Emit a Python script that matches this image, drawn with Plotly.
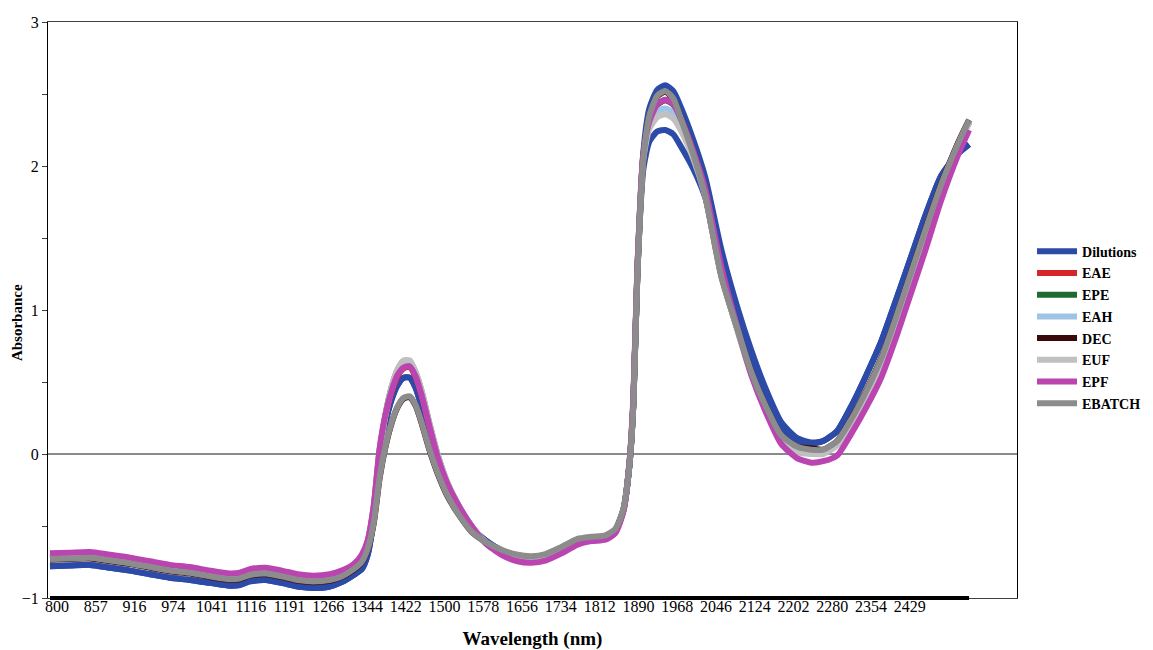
import plotly.graph_objects as go

# x positions in units of the data grid (one unit = 40 px-equivalent step along the category axis)
position = [0.0, 0.5, 1.0, 1.5, 2.0, 2.5, 3.0, 3.5, 4.0, 4.5, 4.75, 5.0, 5.4, 5.8, 6.2, 6.6, 7.0, 7.3, 7.6, 7.8,
            7.95, 8.1, 8.25, 8.4, 8.55, 8.7, 8.85, 9.0, 9.15, 9.3, 9.5, 9.7, 9.95, 10.25, 10.55, 10.9, 11.3, 11.7,
            12.05, 12.4, 12.8, 13.2, 13.55, 13.9, 14.15, 14.35, 14.5, 14.6, 14.7,
            14.85, 15.0, 15.2, 15.4, 15.6, 15.8, 16.1, 16.4, 16.8, 17.2, 17.55, 17.9, 18.3, 18.7, 19.05, 19.35,
            19.7, 20.05, 20.4, 20.8, 21.2, 21.55, 21.9, 22.3, 22.7, 23.0]

tick_labels = ["800", "857", "916", "974", "1041", "1116", "1191", "1266", "1344", "1422", "1500", "1578",
               "1656", "1734", "1812", "1890", "1968", "2046", "2124", "2202", "2280", "2354", "2429"]
tick_start = 0.175   # position of the first labelled category
tick_step = 0.97     # categories between labels, in position units

dilutions = [-0.78, -0.775, -0.77, -0.79, -0.81, -0.835, -0.86, -0.875, -0.895, -0.915, -0.91, -0.885, -0.875, -0.895, -0.92, -0.93, -0.92, -0.89, -0.84, -0.80,
             -0.70, -0.45, -0.05, 0.22, 0.38, 0.48, 0.53, 0.53, 0.46, 0.33, 0.12, -0.06, -0.24, -0.39, -0.51, -0.60, -0.67, -0.715, -0.73, -0.715, -0.66, -0.60, -0.585, -0.575, -0.53, -0.39, -0.08, 0.36, 1.28,
             2.10, 2.40, 2.53, 2.56, 2.52, 2.40, 2.18, 1.92, 1.42, 1.02, 0.72, 0.46, 0.22, 0.11, 0.08, 0.09, 0.16, 0.33, 0.53, 0.78, 1.09, 1.37, 1.65, 1.93, 2.08, 2.15]

dilutions_low = [-0.78, -0.775, -0.77, -0.79, -0.81, -0.835, -0.86, -0.875, -0.895, -0.915, -0.91, -0.885, -0.875, -0.895, -0.92, -0.93, -0.92, -0.89, -0.84, -0.80,
                 -0.70, -0.45, -0.05, 0.22, 0.38, 0.48, 0.53, 0.53, 0.46, 0.33, 0.12, -0.06, -0.24, -0.39, -0.51, -0.60, -0.67, -0.715, -0.73, -0.715, -0.66, -0.60, -0.585, -0.575, -0.53, -0.39, -0.08, 0.36, 1.26,
                 1.98, 2.17, 2.24, 2.25, 2.22, 2.13, 1.98, 1.78, 1.32, 0.95, 0.66, 0.41, 0.19, 0.09, 0.07, 0.09, 0.16, 0.33, 0.53, 0.78, 1.09, 1.37, 1.65, 1.93, 2.08, 2.15]

eae = [-0.725, -0.72, -0.715, -0.735, -0.755, -0.78, -0.805, -0.82, -0.845, -0.865, -0.86, -0.835, -0.825, -0.845, -0.87, -0.88, -0.87, -0.845, -0.795, -0.745,
       -0.61, -0.37, 0.03, 0.27, 0.43, 0.54, 0.595, 0.605, 0.535, 0.405, 0.185, -0.025, -0.215, -0.375, -0.505, -0.615, -0.675, -0.715, -0.73, -0.715, -0.66, -0.60, -0.585, -0.575, -0.53, -0.39, -0.07, 0.37, 1.27,
       2.08, 2.31, 2.43, 2.455, 2.43, 2.32, 2.10, 1.83, 1.26, 0.87, 0.56, 0.32, 0.11, 0.03, 0.02, 0.02, 0.08, 0.23, 0.41, 0.65, 0.96, 1.25, 1.54, 1.86, 2.14, 2.31]

epe = [-0.72, -0.715, -0.71, -0.73, -0.75, -0.775, -0.80, -0.815, -0.84, -0.86, -0.855, -0.83, -0.82, -0.84, -0.865, -0.875, -0.865, -0.84, -0.79, -0.74,
       -0.62, -0.40, 0.00, 0.28, 0.465, 0.585, 0.645, 0.645, 0.565, 0.435, 0.205, -0.005, -0.205, -0.37, -0.50, -0.61, -0.68, -0.72, -0.735, -0.72, -0.665, -0.61, -0.59, -0.58, -0.535, -0.39, -0.07, 0.37, 1.27,
       2.07, 2.31, 2.425, 2.46, 2.425, 2.315, 2.095, 1.83, 1.26, 0.87, 0.56, 0.32, 0.11, 0.02, 0.01, 0.01, 0.07, 0.22, 0.40, 0.64, 0.95, 1.24, 1.53, 1.86, 2.14, 2.30]

eah = [-0.72, -0.715, -0.71, -0.73, -0.75, -0.775, -0.80, -0.815, -0.84, -0.86, -0.855, -0.83, -0.82, -0.84, -0.865, -0.875, -0.865, -0.84, -0.79, -0.74,
       -0.615, -0.38, 0.02, 0.275, 0.45, 0.565, 0.625, 0.63, 0.555, 0.42, 0.20, -0.01, -0.21, -0.37, -0.50, -0.61, -0.675, -0.715, -0.73, -0.715, -0.66, -0.60, -0.585, -0.575, -0.53, -0.39, -0.08, 0.36, 1.27,
       2.06, 2.30, 2.38, 2.40, 2.37, 2.27, 2.07, 1.80, 1.26, 0.87, 0.56, 0.32, 0.11, 0.02, 0.01, 0.01, 0.07, 0.22, 0.40, 0.64, 0.95, 1.24, 1.53, 1.86, 2.14, 2.31]

dec = [-0.735, -0.73, -0.725, -0.745, -0.765, -0.79, -0.815, -0.83, -0.855, -0.875, -0.87, -0.845, -0.835, -0.855, -0.88, -0.89, -0.88, -0.855, -0.805, -0.755,
       -0.665, -0.485, -0.165, 0.055, 0.215, 0.325, 0.385, 0.395, 0.335, 0.215, 0.025, -0.135, -0.295, -0.43, -0.54, -0.61, -0.67, -0.705, -0.715, -0.70, -0.65, -0.595, -0.58, -0.57, -0.525, -0.385, -0.08, 0.35, 1.25,
       2.05, 2.345, 2.485, 2.515, 2.465, 2.32, 2.08, 1.79, 1.24, 0.87, 0.57, 0.34, 0.13, 0.05, 0.04, 0.03, 0.09, 0.245, 0.425, 0.665, 0.97, 1.265, 1.555, 1.875, 2.145, 2.32]

euf = [-0.715, -0.71, -0.705, -0.725, -0.745, -0.77, -0.795, -0.81, -0.835, -0.855, -0.85, -0.825, -0.815, -0.835, -0.86, -0.87, -0.86, -0.835, -0.785, -0.73,
       -0.62, -0.40, 0.00, 0.28, 0.47, 0.59, 0.65, 0.65, 0.57, 0.44, 0.21, 0.00, -0.20, -0.37, -0.50, -0.61, -0.68, -0.72, -0.735, -0.72, -0.665, -0.61, -0.59, -0.58, -0.535, -0.39, -0.07, 0.37, 1.27,
       2.05, 2.26, 2.34, 2.36, 2.33, 2.24, 2.05, 1.79, 1.25, 0.86, 0.55, 0.31, 0.10, 0.01, 0.00, 0.00, 0.06, 0.21, 0.39, 0.63, 0.94, 1.23, 1.52, 1.85, 2.13, 2.30]

epf = [-0.69, -0.685, -0.68, -0.70, -0.72, -0.745, -0.77, -0.785, -0.81, -0.83, -0.825, -0.80, -0.79, -0.81, -0.835, -0.845, -0.835, -0.81, -0.765, -0.70,
       -0.60, -0.36, 0.04, 0.28, 0.44, 0.55, 0.60, 0.61, 0.54, 0.41, 0.19, -0.02, -0.21, -0.37, -0.50, -0.62, -0.70, -0.745, -0.755, -0.74, -0.69, -0.63, -0.605, -0.595, -0.55, -0.40, -0.06, 0.40, 1.30,
       2.08, 2.31, 2.43, 2.46, 2.43, 2.32, 2.10, 1.84, 1.30, 0.88, 0.55, 0.30, 0.07, -0.03, -0.06, -0.05, -0.01, 0.14, 0.31, 0.53, 0.83, 1.12, 1.41, 1.76, 2.06, 2.25]

ebatch = [-0.73, -0.725, -0.72, -0.74, -0.76, -0.785, -0.81, -0.825, -0.85, -0.87, -0.865, -0.84, -0.83, -0.85, -0.875, -0.885, -0.875, -0.85, -0.80, -0.75,
          -0.66, -0.48, -0.16, 0.06, 0.22, 0.33, 0.39, 0.40, 0.34, 0.22, 0.03, -0.13, -0.29, -0.43, -0.54, -0.61, -0.665, -0.70, -0.71, -0.695, -0.645, -0.59, -0.575, -0.565, -0.52, -0.38, -0.08, 0.35, 1.25,
          2.05, 2.35, 2.49, 2.52, 2.47, 2.32, 2.08, 1.79, 1.23, 0.87, 0.57, 0.34, 0.13, 0.05, 0.03, 0.03, 0.09, 0.24, 0.42, 0.66, 0.97, 1.26, 1.55, 1.87, 2.14, 2.32]

series = [
    ("Dilutions", dilutions_low, "#2C4AA8", False),
    ("Dilutions", dilutions, "#2C4AA8", True),
    ("EAE", eae, "#D7262B", True),
    ("EPE", epe, "#1F6B2F", True),
    ("EAH", eah, "#9DC3E6", True),
    ("DEC", dec, "#3A0A0A", True),
    ("EUF", euf, "#C0C0C0", True),
    ("EPF", epf, "#BA45B0", True),
    ("EBATCH", ebatch, "#8C8C8C", True),
]

fig = go.Figure()
for name, vals, color, show in series:
    fig.add_trace(go.Scatter(
        x=position, y=vals, mode="lines", name=name, legendgroup=name, showlegend=show,
        line=dict(color=color, width=6, shape="spline", smoothing=0.6),
        hoverinfo="skip",
    ))

# heavy category-axis baseline under the data extent
fig.add_shape(type="line", xref="x", yref="paper", x0=position[0], x1=position[-1], y0=0, y1=0,
              line=dict(color="black", width=4))

serif = "Liberation Serif"

fig.add_annotation(text="Absorbance", textangle=-90, xref="paper", yref="paper",
                   x=-0.032, y=0.479, xanchor="center", yanchor="middle", showarrow=False,
                   font=dict(family=serif, size=15, color="black", weight="bold"))

tick_positions = [tick_start + tick_step * i for i in range(len(tick_labels))]

# the page body adds an 8 px offset, so the figure is sized 8 px smaller in each direction
fig.update_layout(
    width=1145, height=642,
    margin=dict(l=40, r=136, t=14, b=52, autoexpand=False),
    plot_bgcolor="white", paper_bgcolor="white",
    font=dict(family=serif, color="black"),
    showlegend=True,
    legend=dict(x=1.0155, y=0.629, xanchor="left", yanchor="top", itemwidth=40,
                font=dict(family=serif, size=14, color="black", weight="bold"),
                bgcolor="rgba(0,0,0,0)", tracegroupgap=0.5),
    xaxis=dict(range=[-0.05, 24.2], tickmode="array", tickvals=tick_positions,
               ticktext=tick_labels, ticks="", showgrid=False, zeroline=False, automargin=False,
               showline=True, linecolor="#404040", linewidth=1, mirror=True, ticklabelstandoff=-6,
               tickfont=dict(family=serif, size=16, color="black"),
               title=dict(text="Wavelength (nm)", font=dict(family=serif, size=19, weight="bold"), standoff=20)),
    yaxis=dict(range=[-1, 3], tickmode="linear", tick0=-1, dtick=1, ticks="outside", ticklen=5,
               tickcolor="#404040", minor=dict(dtick=0.5, tick0=-1, ticks="outside", ticklen=5, tickcolor="#404040", showgrid=False),
               showgrid=False, zeroline=True, zerolinecolor="#8A8A8A", zerolinewidth=1.5, automargin=False,
               showline=True, linecolor="black", linewidth=1, mirror=True,
               tickfont=dict(family=serif, size=16, color="black")),
)

fig.write_html("out.html")
